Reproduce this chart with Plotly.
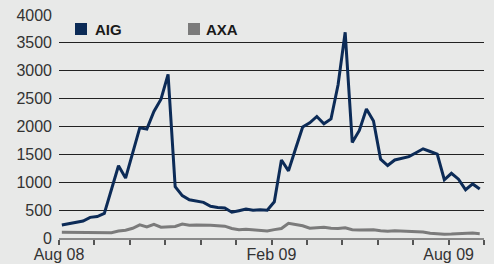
import plotly.graph_objects as go

# Weekly observations (index of week in the chart window)
weeks = list(range(60))

aig = [235, 255, 280, 305, 370, 385, 440, 860, 1295, 1075,
       1520, 1975, 1955, 2270, 2490, 2935, 920, 760, 685, 668,
       640, 570, 548, 540, 462, 490, 520, 498, 505, 498,
       650, 1400, 1205, 1600, 1990, 2065, 2180, 2050, 2135, 2750,
       3690, 1715, 1930, 2315, 2100, 1415, 1300, 1400, 1430, 1460,
       1530, 1600, 1552, 1505, 1045, 1160, 1055, 865, 970, 880]

axa = [105, 103, 100, 97, 95, 95, 93, 95, 125, 140,
       175, 235, 198, 245, 195, 200, 208, 250, 230, 234,
       236, 230, 220, 212, 170, 150, 156, 150, 135, 126,
       150, 170, 265, 248, 220, 176, 185, 192, 175, 170,
       183, 150, 145, 148, 149, 130, 120, 128, 125, 115,
       108, 108, 85, 70, 67, 70, 77, 83, 88, 78]

series_names = ["AIG", "AXA"]
series_colors = ["#0c2b57", "#7b7b7b"]

# tick marks every 5 weeks, labelled at three of them
tick_pos = [-0.4 + 5 * k for k in range(13)]
tick_text = ["Aug 08", "", "", "", "", "", "Feb 09", "", "", "", "", "Aug 09", ""]
y_ticks = [0, 500, 1000, 1500, 2000, 2500, 3000, 3500, 4000]

BG = "#e8e9e8"
FONT = "Liberation Sans, Arial, sans-serif"

fig = go.Figure()
fig.add_trace(go.Scatter(x=weeks, y=axa, mode="lines", name=series_names[1],
                         line=dict(color=series_colors[1], width=3), showlegend=False))
fig.add_trace(go.Scatter(x=weeks, y=aig, mode="lines", name=series_names[0],
                         line=dict(color=series_colors[0], width=3), showlegend=False))

fig.update_layout(
    width=494, height=264,
    margin=dict(l=59, r=10, t=15, b=26, autoexpand=False),
    paper_bgcolor=BG, plot_bgcolor=BG,
    font=dict(family=FONT, size=16, color="#333333"),
    xaxis=dict(range=[-0.4, 59.6], tickmode="array", tickvals=tick_pos, ticktext=tick_text,
               automargin=False, ticklabelstandoff=-4,
               showgrid=False, zeroline=False, showline=True, linecolor="#8a8a8a", linewidth=2,
               ticks="outside", ticklen=5, tickwidth=1.5, tickcolor="#555555",
               tickfont=dict(size=16, color="#333333")),
    yaxis=dict(range=[0, 4000], tickmode="array", tickvals=y_ticks, automargin=False,
               showgrid=True, gridcolor="#222222", gridwidth=1, zeroline=False,
               showline=False, ticks="", ticklabelstandoff=6,
               tickfont=dict(size=16, color="#333333")),
)

# legend swatches and labels
legend_items = [(75, 93, 0), (188, 204, 1)]
for sx, tx, idx in legend_items:
    fig.add_shape(type="rect", xref="paper", yref="paper",
                  x0=(sx - 59) / 425, x1=(sx + 12 - 59) / 425,
                  y0=(238 - 35) / 223, y1=(238 - 23) / 223,
                  fillcolor=series_colors[idx], line=dict(width=0))
    fig.add_annotation(xref="paper", yref="paper", x=(tx - 59) / 425, y=(238 - 29.5) / 223,
                       xanchor="left", yanchor="middle", showarrow=False,
                       text="<b>" + series_names[idx] + "</b>",
                       font=dict(family=FONT, size=15, color="#1a1a1a"))

fig.write_html("out.html", config={"displayModeBar": False},
               post_script="document.body.style.margin='0';document.body.style.background='%s';" % BG)
